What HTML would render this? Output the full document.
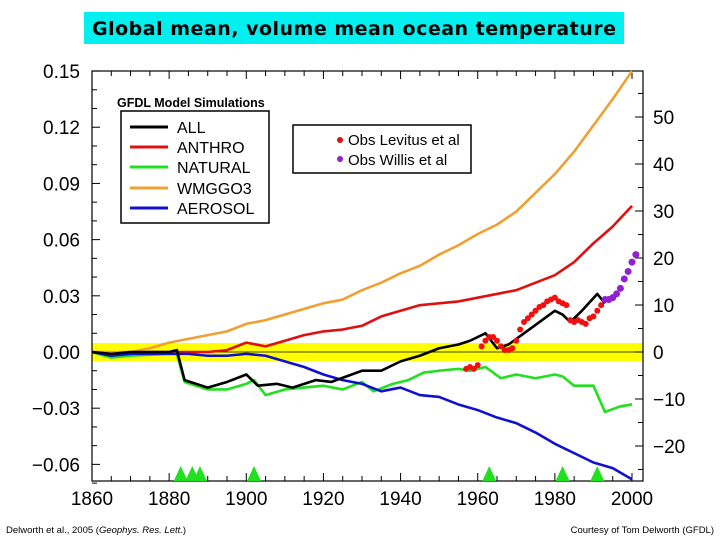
<!DOCTYPE html>
<html><head><meta charset="utf-8"><style>
body{margin:0;background:#fff;width:720px;height:540px;overflow:hidden;font-family:"Liberation Sans",sans-serif}
</style></head><body>
<svg id="c" width="720" height="540" xmlns="http://www.w3.org/2000/svg">
<rect x="84" y="12" width="540" height="32" fill="#00f0f0"/>
<text x="92" y="35" textLength="524" lengthAdjust="spacing" font-family="DejaVu Sans, sans-serif" font-weight="bold" font-size="19">Global mean, volume mean ocean temperature</text>
<rect x="92" y="343" width="551" height="18" fill="#ffff00"/>
<line x1="92" y1="352" x2="643" y2="352" stroke="#000" stroke-width="0.8"/>
<g id="axes"></g>
<g id="series"></g>
<g>
<text x="117" y="107" font-size="12.5" font-weight="bold">GFDL Model Simulations</text>
<rect x="121" y="111" width="148" height="112" fill="#fff" stroke="#000" stroke-width="1.5"/>
<line x1="130" y1="127" x2="168" y2="127" stroke="#000" stroke-width="3"/><text x="177" y="133" font-size="16">ALL</text>
<line x1="130" y1="147" x2="168" y2="147" stroke="#e01010" stroke-width="3"/><text x="177" y="153" font-size="16">ANTHRO</text>
<line x1="130" y1="167" x2="168" y2="167" stroke="#20e020" stroke-width="3"/><text x="177" y="173" font-size="16">NATURAL</text>
<line x1="130" y1="188" x2="168" y2="188" stroke="#f0a030" stroke-width="3"/><text x="177" y="194" font-size="16">WMGGO3</text>
<line x1="130" y1="208" x2="168" y2="208" stroke="#1010d0" stroke-width="3"/><text x="177" y="214" font-size="16">AEROSOL</text>
</g>
<g>
<rect x="293" y="125" width="178" height="48" fill="#fff" stroke="#000" stroke-width="1.5"/>
<circle cx="340" cy="140" r="3" fill="#e01010"/><text x="348" y="145" font-size="15">Obs Levitus et al</text>
<circle cx="340" cy="159" r="3" fill="#9020d0"/><text x="348" y="165" font-size="15">Obs Willis et al</text>
</g>
<text x="6" y="533" font-size="9.5">Delworth et al., 2005 (<tspan font-style="italic">Geophys. Res. Lett.</tspan>)</text>
<text x="714" y="533" font-size="9.5" text-anchor="end">Courtesy of Tom Delworth (GFDL)</text>
</svg>
<script>
const years=[1860,1865,1870,1875,1880,1882,1884,1890,1895,1900,1903,1908,1912,1918,1922,1926,1930,1935,1940,1945,1950,1955,1958,1962,1965,1968,1972,1976,1980,1982,1984,1987,1991,1993];
const allVals=[0,-0.001,0,0,0,0.001,-0.015,-0.019,-0.016,-0.012,-0.018,-0.017,-0.019,-0.015,-0.016,-0.013,-0.010,-0.010,-0.005,-0.002,0.002,0.004,0.006,0.010,0.002,0.004,0.010,0.016,0.022,0.020,0.016,0.022,0.031,0.026];
const yr5=[1860,1865,1870,1875,1880,1885,1890,1895,1900,1905,1910,1915,1920,1925,1930,1935,1940,1945,1950,1955,1960,1965,1970,1975,1980,1985,1990,1995,2000];
const anthroVals=[0,-0.001,-0.001,0,0,0,0,0.001,0.005,0.003,0.006,0.009,0.011,0.012,0.014,0.019,0.022,0.025,0.026,0.027,0.029,0.031,0.033,0.037,0.041,0.048,0.058,0.067,0.078];
const wmggVals=[0,0,0,0.002,0.005,0.007,0.009,0.011,0.015,0.017,0.020,0.023,0.026,0.028,0.033,0.037,0.042,0.046,0.052,0.057,0.063,0.068,0.075,0.085,0.095,0.107,0.121,0.135,0.150];
const aeroVals=[0,-0.002,-0.001,-0.001,-0.001,-0.001,-0.002,-0.002,-0.001,-0.002,-0.005,-0.008,-0.012,-0.015,-0.017,-0.021,-0.019,-0.023,-0.024,-0.028,-0.031,-0.035,-0.038,-0.043,-0.049,-0.054,-0.059,-0.062,-0.068];
const natYears=[1860,1865,1870,1880,1882,1884,1890,1895,1900,1902,1905,1910,1915,1920,1925,1930,1933,1938,1942,1946,1950,1955,1958,1962,1966,1970,1975,1980,1982,1985,1990,1993,1997,2000];
const natVals=[0,-0.003,-0.002,-0.001,-0.001,-0.016,-0.020,-0.020,-0.017,-0.015,-0.023,-0.020,-0.019,-0.018,-0.020,-0.016,-0.021,-0.017,-0.015,-0.011,-0.010,-0.009,-0.010,-0.008,-0.014,-0.012,-0.014,-0.012,-0.013,-0.018,-0.018,-0.032,-0.029,-0.028];
const levYears=[1957,1958,1959,1960,1961,1962,1963,1964,1965,1966,1967,1968,1969,1970,1971,1972,1973,1974,1975,1976,1977,1978,1979,1980,1981,1982,1983,1984,1985,1986,1987,1988,1989,1990,1991,1992];
const levVals=[-0.009,-0.008,-0.009,-0.007,0.003,0.006,0.008,0.008,0.006,0.003,0.001,0.001,0.002,0.006,0.012,0.016,0.018,0.020,0.022,0.024,0.025,0.027,0.028,0.029,0.027,0.026,0.025,0.017,0.016,0.017,0.016,0.015,0.018,0.019,0.022,0.025];
const wilYears=[1993,1994,1995,1996,1997,1998,1999,2000,2001];
const wilVals=[0.028,0.028,0.029,0.031,0.034,0.039,0.043,0.048,0.052];
const eruptions=[1883,1886,1888,1902,1963,1982,1991];
const leftTicks=[0.15,0.12,0.09,0.06,0.03,0,-0.03,-0.06];
const leftLabels=["0.15","0.12","0.09","0.06","0.03","0.00","\u22120.03","\u22120.06"];
const rightTicks=[50,40,30,20,10,0,-10,-20];
const rightLabels=["50","40","30","20","10","0","\u221210","\u221220"];
const xTicks=[1860,1880,1900,1920,1940,1960,1980,2000];

const NS="http://www.w3.org/2000/svg";
const L=92,R=643,T=71,B=481;
const X=y=>L+(y-1860)*540/140;
const Y=v=>352-v*1873;
const YR=v=>352-v*4.7;
function el(tag,attrs,parent){const e=document.createElementNS(NS,tag);for(const k in attrs)e.setAttribute(k,attrs[k]);parent.appendChild(e);return e;}
const ax=document.getElementById('axes'),se=document.getElementById('series');
const frame=el('rect',{x:L,y:T,width:R-L,height:B-T,fill:'none',stroke:'#000','stroke-width':1.2},ax);


for(let v=-0.07;v<=0.15001;v+=0.01){el('line',{x1:L,x2:L+(Math.abs(Math.round(v*100))%3==0?8:5),y1:Y(v),y2:Y(v),stroke:'#000'},ax);}
for(let v=-25;v<=55;v+=5){el('line',{x1:R,x2:R-(v%10==0?8:5),y1:YR(v),y2:YR(v),stroke:'#000'},ax);}
for(let y=1860;y<=2000;y+=5){const len=y%20==0?8:5;el('line',{x1:X(y),x2:X(y),y1:T,y2:T+len,stroke:'#000'},ax);el('line',{x1:X(y),x2:X(y),y1:B,y2:B-len,stroke:'#000'},ax);}
leftTicks.forEach((v,i)=>{const t=el('text',{x:80,y:Y(v)+7,'text-anchor':'end','font-size':19},ax);t.textContent=leftLabels[i];

});
rightTicks.forEach((v,i)=>{const t=el('text',{x:653,y:YR(v)+7,'font-size':19},ax);t.textContent=rightLabels[i];

});
xTicks.forEach(v=>{const t=el('text',{x:X(v),y:505,'text-anchor':'middle','font-size':19},ax);t.textContent=v;

});
function line(xs,vs,color,name){const p=el('polyline',{points:xs.map((x,i)=>X(x)+','+Y(vs[i])).join(' '),fill:'none',stroke:color,'stroke-width':2.6,'stroke-linejoin':'round'},se);

}
line(yr5,wmggVals,'#f0a030','line-wmggo3');
line(yr5,anthroVals,'#e01010','line-anthro');
line(natYears,natVals,'#20e020','line-natural');
line(yr5,aeroVals,'#1010d0','line-aerosol');
line(years,allVals,'#000','line-all');
levYears.forEach((y,i)=>{const c=el('circle',{cx:X(y),cy:Y(levVals[i]),r:3,fill:'#f01010'},se);

});
wilYears.forEach((y,i)=>{const c=el('circle',{cx:X(y),cy:Y(wilVals[i]),r:3.5,fill:'#9020d0'},se);

});
eruptions.forEach(y=>{const x=X(y);const p=el('polygon',{points:`${x-7},${B} ${x+7},${B} ${x},${B-15}`,fill:'#20e020'},se);

});
</script>
</body></html>
